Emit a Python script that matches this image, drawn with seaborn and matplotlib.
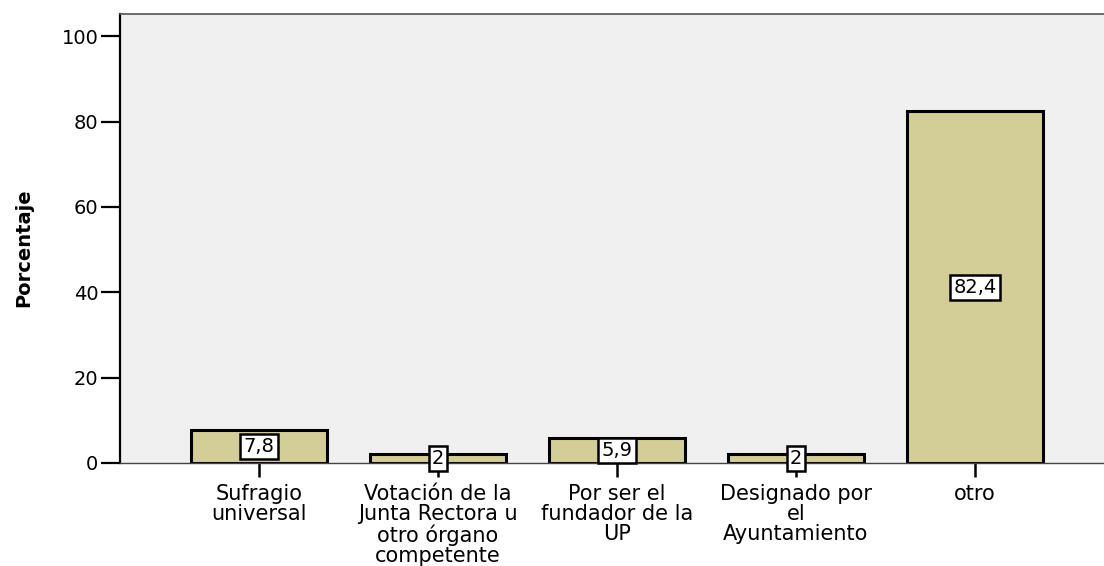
import matplotlib
matplotlib.use("Agg")
import matplotlib.pyplot as plt
import seaborn as sns
import pandas as pd

# datos
categorias = [
    "Sufragio\nuniversal",
    "Votación de la\nJunta Rectora u\notro órgano\ncompetente",
    "Por ser el\nfundador de la\nUP",
    "Designado por\nel\nAyuntamiento",
    "otro",
]
porcentajes = [7.8, 2.0, 5.9, 2.0, 82.4]
yticks = [0, 20, 40, 60, 80, 100]

sns.set_style("white")
plt.rcParams['font.family'] = ['DejaVu Sans']
plt.rcParams['text.color'] = 'black'
plt.rcParams['axes.labelcolor'] = 'black'
plt.rcParams['xtick.color'] = 'black'
plt.rcParams['ytick.color'] = 'black'

df = pd.DataFrame({"categoria": categorias, "porcentaje": porcentajes})

fig = plt.figure(figsize=(11.04, 5.66), dpi=100)
ax = fig.add_axes([120 / 1104, (566 - 463) / 566, 1000 / 1104, (463 - 14) / 566])
ax.set_facecolor("#f0f0f0")

sns.barplot(data=df, x="categoria", y="porcentaje", color="#d3ce97",
            saturation=1, width=0.76, edgecolor="black", linewidth=2.2, ax=ax)

etiquetas = [f"{v:g}".replace(".", ",") for v in porcentajes]
ax.bar_label(ax.containers[0], labels=etiquetas, label_type="center", fontsize=14,
             color="black",
             bbox=dict(boxstyle="square,pad=0.16", fc="white", ec="black", lw=1.8))

ax.set_xlim(-0.7765, -0.7765 + 1000 / 179)
ax.set_ylim(0, 105.2)
ax.set_yticks(yticks)
ax.set_yticklabels([str(t) for t in yticks], fontsize=14)
ax.set_xticks(range(len(categorias)))
ax.set_xticklabels(categorias, fontsize=15, linespacing=1.02, va="top")

ax.tick_params(axis="y", direction="out", length=13.5, width=1.6, pad=2, left=True)
ax.tick_params(axis="x", direction="out", length=10, width=1.8, pad=5, bottom=True)

ax.set_xlabel("")
ax.set_ylabel("Porcentaje", fontsize=14, fontweight="bold")
ax.yaxis.set_label_coords(-0.087, 0.48)

for lado in ["left", "top", "bottom"]:
    ax.spines[lado].set_visible(True)
ax.spines["left"].set_color("black")
ax.spines["left"].set_linewidth(1.6)
ax.spines["top"].set_color("#555555")
ax.spines["top"].set_linewidth(1.2)
ax.spines["bottom"].set_color("#444444")
ax.spines["bottom"].set_linewidth(1.0)
ax.spines["right"].set_visible(False)

fig.savefig("out.png", dpi=100)
